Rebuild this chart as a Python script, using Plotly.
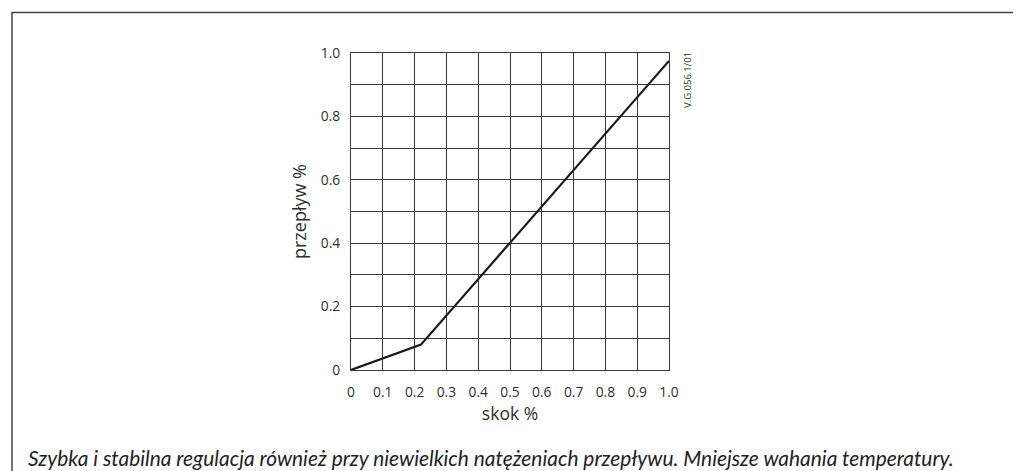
import plotly.graph_objects as go

skok = [0.0, 0.22, 1.0]
przeplyw = [0.0, 0.08, 0.975]

x_ticks = [0.0, 0.1, 0.2, 0.3, 0.4, 0.5, 0.6, 0.7, 0.8, 0.9, 1.0]
x_labels = ["0", "0.1", "0.2", "0.3", "0.4", "0.5", "0.6", "0.7", "0.8", "0.9", "1.0"]
y_ticks = [0.0, 0.2, 0.4, 0.6, 0.8, 1.0]
y_labels = ["0", "0.2", "0.4", "0.6", "0.8", "1.0"]

x_title = "skok %"
y_title = "przepływ %"
caption = "Szybka i stabilna regulacja również przy niewielkich natężeniach przepływu. Mniejsze wahania temperatury."
code_label = "V.G.056.1/01"

# the page shows the figure with an 8 px offset; work in reference pixels
OFF = 8
W, H = 1021 - OFF, 471 - OFF
PL, PR, PT, PB = 351, 669, 53, 370          # plot area in reference pixels
L, T = PL - OFF, PT - OFF
R, B = W - (PR - OFF), H - (PB - OFF)
pw, ph = PR - PL, PB - PT

def px_x(p):
    return (p - PL) / pw

def px_y(p):
    return (PB - p) / ph

grid_col = "#3a3a3a"
txt_col = "#2e2e2e"
font_main = "Open Sans"

fig = go.Figure()
fig.add_trace(go.Scatter(x=skok, y=przeplyw, mode="lines",
                         line=dict(color="#1a1a1a", width=2.2),
                         showlegend=False, hoverinfo="skip"))

fig.update_layout(
    width=W, height=H,
    margin=dict(l=L, r=R, t=T, b=B, pad=0),
    paper_bgcolor="white", plot_bgcolor="white",
    font=dict(family=font_main, color=txt_col, size=14),
    xaxis=dict(range=[0, 1], tickvals=x_ticks, ticktext=x_labels,
               showgrid=True, gridcolor=grid_col, gridwidth=1,
               showline=True, linecolor=grid_col, linewidth=1, mirror=True,
               zeroline=False, ticks="", ticklabelstandoff=9,
               tickfont=dict(size=13.8, color=txt_col),
               title=dict(text=x_title, font=dict(size=17.5, color=txt_col), standoff=8),
               fixedrange=True),
    yaxis=dict(range=[0, 1], tickvals=y_ticks, ticktext=y_labels,
               showgrid=True, gridcolor=grid_col, gridwidth=1,
               minor=dict(dtick=0.1, tick0=0, showgrid=True, gridcolor=grid_col, gridwidth=1),
               showline=True, linecolor=grid_col, linewidth=1, mirror=True,
               zeroline=False, ticks="", ticklabelstandoff=7,
               tickfont=dict(size=13.8, color=txt_col),
               title=dict(text=y_title, font=dict(size=18, color=txt_col), standoff=9),
               fixedrange=True),
    shapes=[dict(type="rect", xref="paper", yref="paper",
                 x0=px_x(12), x1=px_x(1040), y0=px_y(490), y1=px_y(12.5),
                 line=dict(color="#444444", width=1.5), fillcolor="rgba(0,0,0,0)",
                 layer="below")],
    annotations=[
        dict(text=caption, xref="paper", yref="paper", x=px_x(26), y=px_y(457),
             xanchor="left", yanchor="middle", showarrow=False,
             font=dict(family="Lato", size=20.9, color="#222222", style="italic")),
        dict(text=code_label, xref="paper", yref="paper", x=px_x(687), y=px_y(80),
             xanchor="center", yanchor="middle", showarrow=False, textangle=-90,
             font=dict(family=font_main, size=9.5, color=txt_col)),
    ],
)

fig.write_html("out.html")
